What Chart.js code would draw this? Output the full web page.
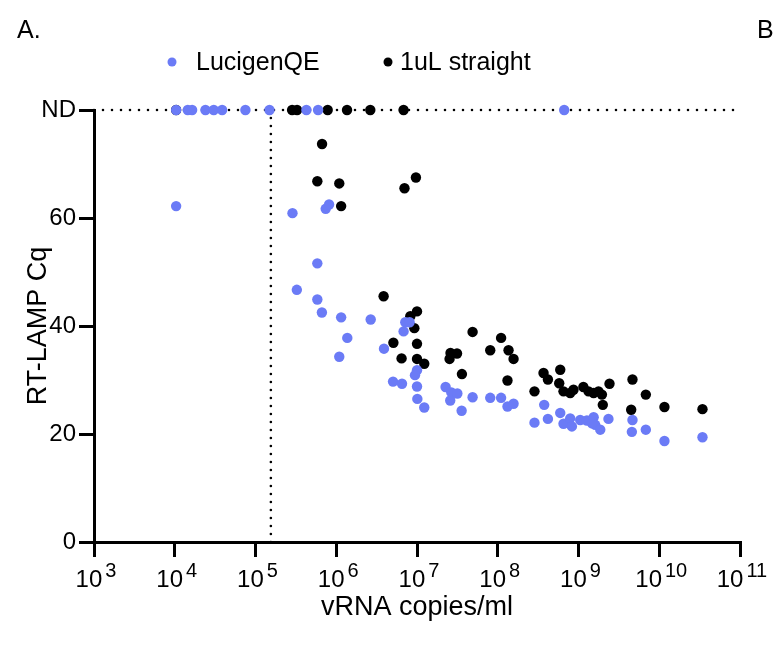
<!DOCTYPE html>
<html>
<head>
<meta charset="utf-8">
<title>RT-LAMP Cq vs vRNA copies</title>
<script src="https://cdn.jsdelivr.net/npm/chart.js@4.4.0/dist/chart.umd.min.js"></script>
<style>
  html, body { margin: 0; padding: 0; background: #fff; }
  #wrap { width: 773px; height: 647px; }
</style>
</head>
<body>
<div id="wrap"><canvas id="chart" width="773" height="647"></canvas></div>
<script>
// --- data (ND = not detected, plotted on the top row) ---
const ND = 80;
const lodCopies = 1.55e5;

const lucigenCopies = [
  1.04e4, 1.45e4, 1.64e4, 2.4e4, 3.04e4, 3.86e4, 7.5e4, 1.49e5, 4.27e5, 5.96e5, 6.65e8,
  1.04e4, 2.87e5, 7.4e5, 8.15e5, 5.83e5, 3.25e5, 5.83e5, 6.64e5, 1.15e6, 1.37e6,
  1.09e6, 2.67e6, 7.16e6, 8.1e6, 6.82e6, 3.9e6, 1.0e7, 9.44e6, 5.05e6, 6.52e6,
  1.0e7, 1.01e7, 1.23e7, 2.26e7, 2.66e7, 3.16e7, 2.58e7, 3.57e7, 4.88e7, 8.07e7,
  1.1e8, 1.32e8, 1.57e8, 2.85e8, 3.76e8, 4.18e8, 5.94e8, 6.52e8, 7.89e8, 8.28e8,
  1.05e9, 1.27e9, 1.54e9, 1.61e9, 1.86e9, 2.35e9, 4.66e9, 4.58e9, 6.82e9, 1.16e10,
  3.43e10, 1.47e9
];
const lucigenCq = [
  ND, ND, ND, ND, ND, ND, ND, ND, ND, ND, ND,
  62.2, 60.9, 61.7, 62.5, 51.6, 46.7, 44.9, 42.5, 41.6, 37.8,
  34.3, 41.2, 40.7, 40.7, 39.0, 35.8, 31.8, 30.9, 29.7, 29.3,
  28.8, 26.5, 24.9, 28.7, 27.7, 27.5, 26.2, 24.3, 26.8, 26.7,
  26.7, 25.1, 25.6, 22.1, 25.4, 22.8, 23.9, 21.9, 22.9, 21.4,
  22.6, 22.5, 23.1, 21.7, 20.8, 22.8, 22.6, 20.4, 20.8, 18.7,
  19.4, 22.0
];

const straightCopies = [
  1.04e4, 2.84e5, 3.27e5, 7.83e5, 1.36e6, 2.64e6, 6.82e6,
  6.67e5, 5.83e5, 1.09e6, 7.0e6, 9.7e6, 1.15e6, 3.86e6, 8.26e6, 1.0e7, 9.27e6,
  5.1e6, 1.0e7, 6.44e6, 1.0e7, 1.23e7, 2.6e7, 3.13e7, 2.53e7, 4.88e7, 3.6e7,
  8.07e7, 1.1e8, 1.36e8, 1.57e8, 1.32e8, 2.85e8, 3.69e8, 4.18e8, 5.94e8, 5.77e8,
  6.52e8, 7.89e8, 8.67e8, 1.15e9, 1.33e9, 1.54e9, 1.77e9, 1.95e9, 2.0e9, 2.42e9,
  4.66e9, 4.49e9, 6.82e9, 1.16e10, 3.43e10
];
const straightCq = [
  ND, ND, ND, ND, ND, ND, ND,
  73.7, 66.8, 66.4, 65.5, 67.5, 62.2, 45.5, 41.8, 42.7, 39.6,
  36.9, 36.7, 34.0, 33.9, 33.0, 35.0, 34.9, 33.9, 38.9, 31.1,
  35.5, 37.8, 35.5, 33.9, 29.9, 27.9, 31.3, 30.1, 31.9, 29.4,
  27.9, 27.6, 28.2, 28.7, 27.9, 27.6, 27.9, 27.3, 25.4, 29.3,
  30.1, 24.5, 27.3, 25.0, 24.6
];

const xTickExponents = [3, 4, 5, 6, 7, 8, 9, 10, 11];
const yTickValues = [0, 20, 40, 60, 80];
const yTickLabels = ['0', '20', '40', '60', 'ND'];

const seriesNames = ['LucigenQE', '1uL straight'];
const BLUE = '#6b7bf6';
const FONT = '"Liberation Sans", Arial, sans-serif';

function toPoints(xs, ys) {
  return xs.map((x, i) => ({ x: x, y: ys[i] }));
}

// draws legend, panel letters and the 10^n tick labels
const extrasPlugin = {
  id: 'extras',
  afterDraw(chart) {
    const ctx = chart.ctx;
    ctx.save();
    ctx.fillStyle = '#000';
    ctx.textBaseline = 'middle';
    ctx.font = '25px ' + FONT;
    ctx.fillText('A.', 17, 31);
    ctx.fillText('B', 757, 31);

    // legend
    const items = [
      { color: BLUE, text: seriesNames[0], dotX: 172, textX: 196 },
      { color: '#000', text: seriesNames[1], dotX: 388, textX: 400 }
    ];
    items.forEach(it => {
      ctx.beginPath();
      ctx.fillStyle = it.color;
      ctx.arc(it.dotX, 62, 4.5, 0, Math.PI * 2);
      ctx.fill();
      ctx.fillStyle = '#000';
      ctx.fillText(it.text, it.textX, 63);
    });

    // x tick labels with superscript exponents
    const xs = chart.scales.x;
    ctx.textBaseline = 'alphabetic';
    xTickExponents.forEach(e => {
      const px = xs.getPixelForValue(Math.pow(10, e));
      ctx.font = '24px ' + FONT;
      const w1 = ctx.measureText('10').width;
      ctx.font = '20px ' + FONT;
      const w2 = ctx.measureText(String(e)).width;
      const start = px - (w1 + 3 + w2) / 2 + 2;
      ctx.font = '24px ' + FONT;
      ctx.fillText('10', start, 587);
      ctx.font = '20px ' + FONT;
      ctx.fillText(String(e), start + w1 + 3, 577);
    });
    ctx.restore();
  }
};

const ctx = document.getElementById('chart').getContext('2d');
new Chart(ctx, {
  type: 'scatter',
  data: {
    datasets: [
      {
        label: seriesNames[0],
        data: toPoints(lucigenCopies, lucigenCq),
        backgroundColor: BLUE,
        pointRadius: 5.2,
        pointBorderWidth: 0,
        clip: false
      },
      {
        label: seriesNames[1],
        data: toPoints(straightCopies, straightCq),
        backgroundColor: '#000',
        pointRadius: 5.2,
        pointBorderWidth: 0,
        clip: false
      },
      {
        label: 'ND line',
        data: [{ x: 1e3, y: ND }, { x: 1e11, y: ND }],
        showLine: true,
        borderColor: '#000',
        borderWidth: 2.6,
        borderDash: [0, 9],
        borderCapStyle: 'round',
        pointRadius: 0,
        clip: false
      },
      {
        label: 'LOD line',
        data: [{ x: lodCopies, y: 0 }, { x: lodCopies, y: ND }],
        showLine: true,
        borderColor: '#000',
        borderWidth: 2.6,
        borderDash: [0, 8],
        borderCapStyle: 'round',
        pointRadius: 0,
        clip: false
      }
    ]
  },
  options: {
    responsive: false,
    animation: false,
    devicePixelRatio: 1,
    layout: { padding: { top: 110, right: 33, bottom: 0, left: 0 } },
    plugins: { legend: { display: false }, tooltip: { enabled: false } },
    scales: {
      x: {
        type: 'logarithmic',
        position: 'bottom',
        min: 1e3,
        max: 1e11,
        border: { display: true, width: 3, color: '#000' },
        grid: { drawOnChartArea: false, drawTicks: true, tickLength: 15, lineWidth: 3, color: '#000' },
        ticks: { display: false },
        afterBuildTicks: s => { s.ticks = xTickExponents.map(e => ({ value: Math.pow(10, e) })); },
        afterFit: s => { s.height = 105; },
        title: {
          display: true,
          text: 'vRNA copies/ml',
          color: '#000',
          font: { family: FONT, size: 27 },
          padding: { top: 0, bottom: 23 }
        }
      },
      y: {
        type: 'linear',
        min: 0,
        max: ND,
        border: { display: true, width: 3, color: '#000' },
        grid: { drawOnChartArea: false, drawTicks: true, tickLength: 15, lineWidth: 3, color: '#000' },
        afterBuildTicks: s => { s.ticks = yTickValues.map(v => ({ value: v })); },
        ticks: {
          color: '#000',
          padding: 3,
          font: { family: FONT, size: 24 },
          callback: v => yTickLabels[yTickValues.indexOf(v)]
        },
        afterFit: s => { s.width = 94; },
        title: {
          display: true,
          text: 'RT-LAMP Cq',
          color: '#000',
          font: { family: FONT, size: 27 },
          padding: { top: 22, bottom: 0 }
        }
      }
    }
  },
  plugins: [extrasPlugin]
});
</script>
</body>
</html>
